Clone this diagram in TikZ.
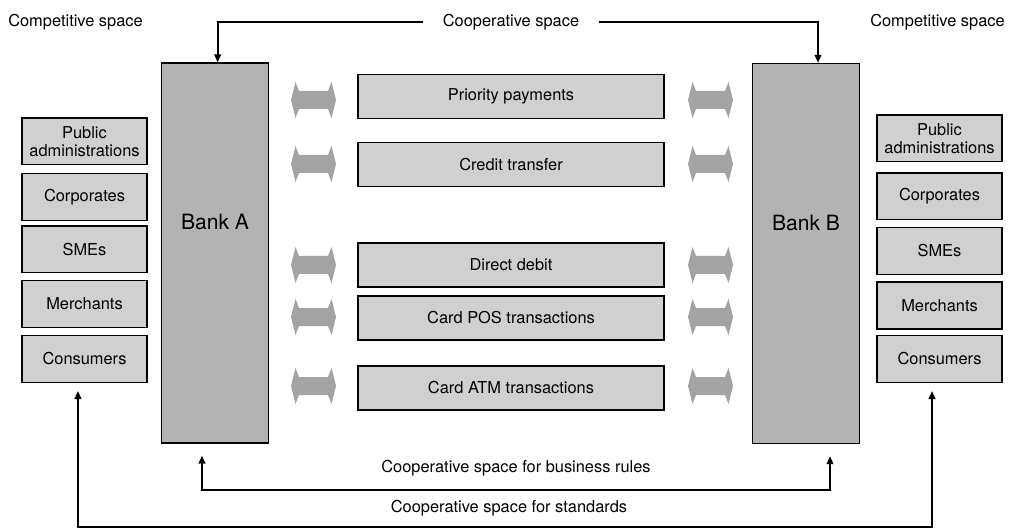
\documentclass[tikz,border=0pt]{standalone}
\usepackage{fontspec}
\setmainfont{TeX Gyre Heros}
\usetikzlibrary{arrows.meta}

\definecolor{bankgray}{HTML}{B3B3B3}
\definecolor{boxgray}{HTML}{D0D0D0}
\definecolor{arrowgray}{HTML}{A3A3A3}

\tikzset{
    >={Triangle[length=6pt,width=5pt]},
    client/.style={draw, line width=1pt, fill=boxgray, minimum width=93.75pt, minimum height=35pt,
        inner sep=0pt, align=center, font=\fontsize{12.3}{14}\selectfont},
    bank/.style={draw, line width=1pt, fill=bankgray, minimum width=80pt, minimum height=285pt, inner sep=0pt},
    banktext/.style={font=\fontsize{15.8}{18}\selectfont},
    service/.style={draw, line width=1pt, fill=boxgray, minimum width=229.5pt, minimum height=33pt,
        inner sep=0pt, font=\fontsize{12.3}{14}\selectfont},
    spacetext/.style={inner sep=0pt, font=\fontsize{12.3}{14}\selectfont},
    conn/.style={line width=1.4pt},
    dblarrow/.pic={
        \fill[arrowgray] (-22.5,0) -- (-18,-18) -- (-14.5,-9) -- (14.5,-9) -- (18,-18) -- (22.5,0)
            -- (18,18) -- (14.5,9) -- (-14.5,9) -- (-18,18) -- cycle;
    }
}

\begin{document}
\begin{tikzpicture}[x=0.75pt, y=-0.75pt]
    \useasboundingbox (0,0) rectangle (1011,531);

    % Banks
    \node[bank] (bankA) at (215,253) {};
    \node[bank] (bankB) at (806,253.5) {};
    \node[banktext] (bankAtext) at ([yshift=23.25pt]bankA.center) {Bank A};
    \node[banktext] (bankBtext) at ([yshift=23.25pt]bankB.center) {Bank B};

    % Customers of bank A
    \node[client] (pubL) at (84.5,141.5) {Public\\administrations};
    \node[client] (corpL) at (84.5,197) {Corporates};
    \node[client] (smeL) at (84.5,249.5) {SMEs};
    \node[client] (merL) at (84.5,304) {Merchants};
    \node[client] (consL) at (84.5,359) {Consumers};

    % Customers of bank B
    \node[client] (pubR) at (939.5,138.5) {Public\\administrations};
    \node[client] (corpR) at (939.5,196.5) {Corporates};
    \node[client] (smeR) at (939.5,251) {SMEs};
    \node[client] (merR) at (939.5,305.5) {Merchants};
    \node[client] (consR) at (939.5,359) {Consumers};

    % Payment services
    \node[service] (prio) at (511,96.5) {Priority payments};
    \node[service] (credit) at (511,164.5) {Credit transfer};
    \node[service] (ddebit) at (511,265) {Direct debit};
    \node[service] (pos) at (511,318) {Card POS transactions};
    \node[service] (atm) at (511,388) {Card ATM transactions};

    % Exchanges between banks and services
    \foreach \y in {100,164,265,317,386} {
        \pic at (313.5,\y) {dblarrow};
        \pic at (710.5,\y) {dblarrow};
    }

    % Spaces
    \node[spacetext] (compL) at (75.5,22) {Competitive space};
    \node[spacetext] (compR) at (937.5,22) {Competitive space};
    \node[spacetext, inner xsep=15pt] (coop) at (511,22) {Cooperative space};
    \draw[conn,->] (coop.west) -| ([xshift=2pt]bankA.north);
    \draw[conn,->] (coop.east) -| ([xshift=9pt]bankB.north);

    \node[spacetext] (rulestext) at (516,468) {Cooperative space for business rules};
    \coordinate (rulesline) at (516,490);
    \draw[conn,<->] ([xshift=-9.75pt,yshift=-9pt]bankA.south) |- (rulesline)
        -| ([xshift=18pt,yshift=-9pt]bankB.south);

    \node[spacetext] (stdtext) at (509,508) {Cooperative space for standards};
    \coordinate (stdline) at (509,527);
    \draw[conn,<->] ([xshift=-4.9pt,yshift=-6pt]consL.south) |- (stdline)
        -| ([xshift=-5.6pt,yshift=-6pt]consR.south);
\end{tikzpicture}
\end{document}
